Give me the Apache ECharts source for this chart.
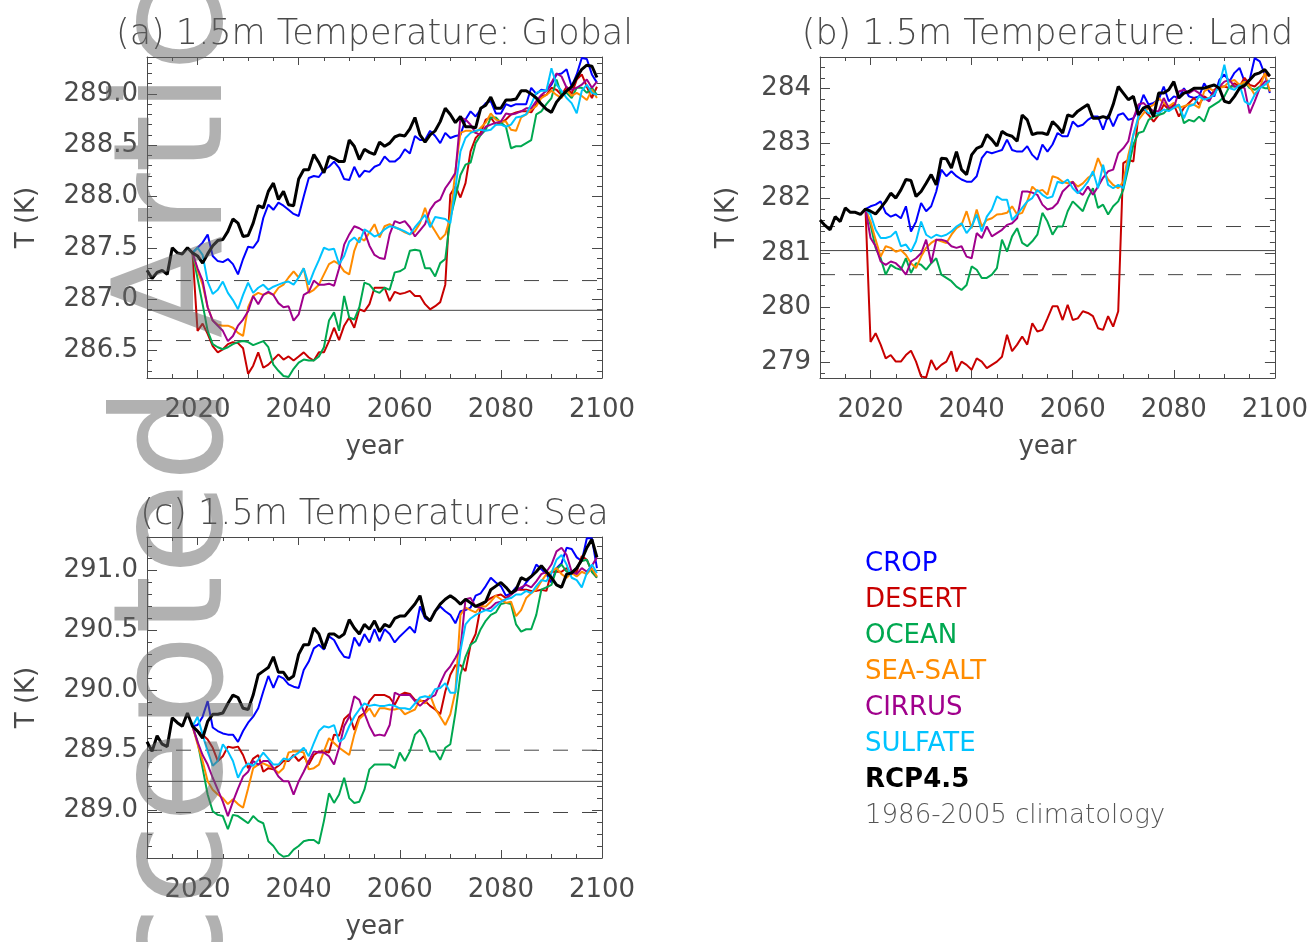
<!DOCTYPE html>
<html><head><meta charset="utf-8">
<script src="https://cdn.jsdelivr.net/npm/echarts@6/dist/echarts.min.js"></script>
<style>html,body{margin:0;padding:0;background:#fff}#c{width:1311px;height:942px}</style>
</head><body><div id="c"></div>
<script>
// ---------------- DATA ----------------
const titles = ['(a) 1.5m Temperature: Global', '(b) 1.5m Temperature: Land', '(c) 1.5m Temperature: Sea'];
const seriesNames = ['CROP', 'DESERT', 'OCEAN', 'SEA-SALT', 'CIRRUS', 'SULFATE'];
const rcpName = 'RCP4.5';
const climName = '1986-2005 climatology';
const rcpStart = 2010;   // first year of RCP4.5 run
const geoStart = 2019;   // first year of geoengineering runs (branch point)
const xLabels = [2020, 2040, 2060, 2080, 2100];
const xMajorTicks = [2020, 2040, 2060, 2080];

const yRangeGlobal = [286.23, 289.36];
const yRangeLand = [278.71, 284.58];
const yRangeSea = [288.60, 291.28];
const yLabelsGlobal = [286.5, 287.0, 287.5, 288.0, 288.5, 289.0];
const yLabelsLand = [279, 280, 281, 282, 283, 284];
const yLabelsSea = [289.0, 289.5, 290.0, 290.5, 291.0];

// climatology (mean, lower, upper)
const climGlobal = [286.89, 286.595, 287.18];
const climLand = [281.04, 280.60, 281.48];
const climSea = [289.24, 288.98, 289.50];

// ---- Global ----
const globalRcp = [
287.28,287.20,287.26,287.28,287.24,287.50,287.45,287.44,287.50,287.45,
287.42,287.35,287.44,287.52,287.57,287.58,287.66,287.78,287.74,287.61,
287.62,287.74,287.91,287.89,288.05,288.13,287.97,288.05,287.92,287.91,
288.17,288.26,288.26,288.41,288.33,288.23,288.39,288.37,288.34,288.34,
288.55,288.49,288.36,288.46,288.43,288.41,288.53,288.49,288.52,288.58,
288.60,288.59,288.66,288.77,288.60,288.53,288.60,288.64,288.73,288.86,
288.80,288.72,288.78,288.68,288.68,288.67,288.86,288.89,288.97,288.86,
288.86,288.94,288.94,288.95,289.03,289.03,289.00,288.96,288.90,288.85,
288.82,288.92,288.98,289.03,289.07,289.16,289.24,289.28,289.27,289.16];
const globalCrop = [287.45,
287.50,287.55,287.63,287.42,287.37,287.36,287.39,287.34,287.24,287.39,
287.51,287.50,287.57,287.79,287.92,287.87,287.94,287.91,287.87,287.83,
287.81,288.00,288.18,288.20,288.19,288.26,288.29,288.34,288.28,288.17,
288.16,288.29,288.19,288.25,288.24,288.29,288.31,288.39,288.34,288.34,
288.38,288.46,288.42,288.59,288.55,288.55,288.64,288.59,288.52,288.62,
288.57,288.59,288.60,288.75,288.83,288.78,288.85,288.91,288.93,288.81,
288.81,288.90,288.88,288.90,288.90,288.90,289.06,289.00,289.04,289.03,
289.09,289.19,289.20,289.24,289.07,289.19,289.35,289.34,289.19,289.11];
const globalDesert = [287.45,
286.69,286.76,286.66,286.54,286.48,286.51,286.56,286.58,286.57,286.52,
286.27,286.35,286.48,286.33,286.36,286.41,286.46,286.41,286.44,286.40,
286.44,286.48,286.43,286.40,286.48,286.48,286.59,286.72,286.60,286.74,
286.82,286.72,286.90,286.88,286.95,287.11,287.11,287.11,286.98,287.07,
287.05,287.06,287.08,287.03,287.03,286.95,286.90,286.93,286.97,287.14,
288.02,288.10,287.99,288.13,288.44,288.57,288.62,288.75,288.77,288.70,
288.72,288.75,288.80,288.82,288.83,288.83,288.82,288.90,288.98,288.99,
289.06,289.04,288.99,289.07,289.00,289.14,289.19,289.07,288.96,289.07];
const globalOcean = [287.45,
287.20,286.95,286.69,286.56,286.53,286.51,286.53,286.56,286.58,286.59,
286.58,286.55,286.57,286.59,286.53,286.36,286.30,286.25,286.24,286.32,
286.38,286.41,286.40,286.40,286.44,286.53,286.79,286.87,286.69,287.03,
286.82,286.80,286.92,287.16,287.14,287.08,287.06,287.11,287.09,287.26,
287.27,287.30,287.47,287.48,287.47,287.30,287.30,287.22,287.35,287.39,
287.79,287.99,288.21,288.31,288.33,288.52,288.60,288.65,288.77,288.77,
288.72,288.68,288.47,288.49,288.49,288.52,288.55,288.80,288.83,288.90,
288.96,289.14,288.99,289.01,288.96,289.06,289.06,289.01,289.06,288.99];
const globalSeaSalt = [287.45,
287.28,287.14,286.92,286.79,286.75,286.74,286.74,286.72,286.67,286.64,
286.92,287.03,287.06,287.04,287.06,287.04,287.11,287.14,287.21,287.27,
287.21,287.30,287.06,287.09,287.14,287.24,287.34,287.37,287.34,287.27,
287.24,287.47,287.60,287.57,287.65,287.73,287.60,287.71,287.73,287.70,
287.68,287.65,287.63,287.66,287.74,287.89,287.74,287.66,287.58,287.63,
287.80,288.25,288.62,288.64,288.64,288.62,288.67,288.72,288.81,288.75,
288.73,288.73,288.65,288.64,288.77,288.80,288.85,288.88,288.96,288.99,
289.03,288.99,288.96,289.04,288.98,289.01,288.98,288.94,289.04,288.96];
const globalCirrus = [287.45,
287.30,287.18,286.92,286.79,286.74,286.69,286.59,286.64,286.74,286.80,
286.88,287.03,286.95,287.04,287.07,287.04,286.96,286.92,286.93,286.79,
286.85,287.04,287.07,287.18,287.14,287.14,287.15,287.13,287.30,287.53,
287.63,287.71,287.69,287.66,287.52,287.43,287.40,287.39,287.63,287.76,
287.74,287.76,287.70,287.61,287.67,287.73,287.87,287.94,287.97,288.08,
288.15,288.23,288.77,288.75,288.70,288.62,288.60,288.68,288.70,288.72,
288.73,288.81,288.80,288.81,288.83,288.86,288.86,288.93,288.99,289.03,
289.11,289.20,289.17,289.06,289.04,289.06,289.09,289.14,289.06,289.12];
const globalSulfate = [287.45,
287.50,287.43,287.17,287.05,287.09,287.17,287.06,286.99,286.90,287.04,
287.16,287.06,287.11,287.14,287.09,287.12,287.14,287.16,287.17,287.14,
287.21,287.30,287.14,287.27,287.38,287.50,287.48,287.49,287.34,287.42,
287.56,287.60,287.55,287.68,287.65,287.61,287.63,287.68,287.71,287.70,
287.68,287.66,287.63,287.70,287.76,287.82,287.70,287.80,287.79,287.78,
287.74,288.08,288.44,288.57,288.62,288.64,288.65,288.64,288.65,288.70,
288.70,288.68,288.70,288.77,288.78,288.80,288.90,289.01,289.03,289.03,
289.25,289.09,289.03,288.96,288.91,288.81,289.03,289.09,289.01,288.99];

// ---- Land ----
const landRcp = [
281.60,281.50,281.42,281.66,281.57,281.82,281.74,281.74,281.70,281.80,
281.76,281.71,281.82,281.94,282.09,282.00,282.15,282.34,282.32,282.03,
282.12,282.27,282.43,282.24,282.73,282.72,282.55,282.85,282.52,282.43,
282.79,282.91,282.95,283.16,283.07,282.95,283.22,283.16,283.13,283.04,
283.52,283.43,283.16,283.19,283.19,283.16,283.40,283.31,283.19,283.52,
283.49,283.59,283.65,283.71,283.46,283.46,283.49,283.46,283.71,284.04,
283.92,283.80,283.86,283.52,283.65,283.68,283.49,283.92,283.92,283.98,
284.13,283.83,283.92,283.95,284.01,284.01,284.01,284.04,284.07,284.01,
283.77,283.74,283.86,284.01,284.06,284.16,284.26,284.29,284.35,284.23];
const landCrop = [281.80,
281.85,281.88,281.94,281.73,281.66,281.70,281.63,281.85,281.39,281.57,
281.91,281.76,281.85,282.12,282.52,282.40,282.49,282.40,282.34,282.30,
282.30,282.40,282.73,282.85,282.82,282.85,282.88,283.07,282.88,282.85,
282.85,282.95,282.79,282.70,282.98,282.85,282.98,283.19,283.13,283.13,
283.40,283.31,283.34,283.43,283.49,283.49,283.25,283.52,283.31,283.52,
283.55,283.43,283.46,283.62,283.89,283.71,283.74,283.80,284.04,283.77,
283.86,283.83,284.01,283.86,283.83,283.86,284.10,283.95,283.86,284.16,
284.26,284.13,284.29,284.38,284.13,284.16,284.56,284.50,284.26,283.92];
const landDesert = [281.80,
279.37,279.53,279.32,279.07,279.13,279.01,279.01,279.13,279.21,279.01,
278.74,278.72,279.04,278.86,278.95,279.01,279.20,278.83,279.01,278.95,
278.86,279.07,279.01,278.89,278.95,279.01,279.10,279.50,279.20,279.32,
279.47,279.32,279.71,279.56,279.59,279.80,280.02,280.02,279.77,280.05,
279.77,279.80,279.93,279.90,279.84,279.62,279.59,279.84,279.65,279.93,
282.64,282.70,282.67,283.52,283.62,283.52,283.40,283.52,283.71,283.62,
283.71,283.49,283.65,283.74,283.83,283.71,283.86,283.80,283.98,284.04,
284.04,284.01,284.10,284.04,284.20,284.07,284.04,284.13,284.26,284.23];
const landOcean = [281.80,
281.51,281.09,280.90,280.60,280.78,280.72,280.69,280.90,280.63,280.81,
280.78,280.69,280.81,280.90,280.60,280.54,280.48,280.38,280.32,280.41,
280.75,280.69,280.54,280.54,280.60,280.72,281.24,281.02,281.30,281.45,
281.18,281.12,281.21,281.33,281.73,281.57,281.33,281.48,281.48,281.76,
281.94,281.85,281.76,282.00,282.18,281.82,281.88,281.70,281.85,281.94,
282.15,282.55,282.98,283.19,283.22,283.43,283.49,283.52,283.55,283.65,
283.65,283.71,283.37,283.43,283.40,283.49,283.40,283.65,283.71,283.77,
283.86,284.04,284.04,284.04,284.13,284.01,283.98,284.04,284.01,284.01];
const landSeaSalt = [281.80,
281.57,281.24,280.93,281.12,281.09,281.02,281.05,280.96,280.81,280.72,
280.93,281.09,281.18,281.24,281.21,281.18,281.33,281.45,281.51,281.76,
281.45,281.79,281.48,281.60,281.63,281.70,281.71,281.73,281.85,281.70,
281.73,281.94,282.21,282.12,282.15,282.06,282.40,282.37,282.30,282.27,
282.30,282.21,282.27,282.37,282.43,282.73,282.52,282.34,282.24,282.18,
282.30,282.79,283.16,283.43,283.55,283.65,283.71,283.83,283.74,283.68,
283.74,283.65,283.68,283.71,283.71,283.65,283.95,284.01,283.95,284.01,
284.04,284.13,284.16,284.07,284.13,284.04,283.89,284.01,284.29,283.95];
const landCirrus = [281.80,
281.27,281.12,280.84,280.78,280.84,280.81,280.72,280.60,280.84,280.90,
280.99,281.24,280.81,281.24,281.24,281.21,281.12,281.09,281.12,280.93,
280.90,281.36,281.27,281.48,281.30,281.36,281.42,281.51,281.54,281.63,
282.12,282.12,282.10,282.06,281.88,281.79,281.82,281.91,282.12,282.21,
282.30,282.12,282.06,282.21,282.06,282.21,282.37,282.49,282.52,282.82,
282.91,283.04,283.46,283.71,283.74,283.65,283.59,283.59,283.83,283.65,
283.65,283.95,283.98,283.92,283.98,283.92,283.83,283.77,283.95,284.04,
284.13,284.16,284.04,284.04,284.01,283.55,283.77,284.01,284.13,284.13];
const landSulfate = [281.80,
281.70,281.42,281.27,281.27,281.30,281.39,281.12,281.15,281.02,281.21,
281.57,281.33,281.27,281.33,281.30,281.33,281.39,281.48,281.54,281.36,
281.48,281.70,281.39,281.66,281.79,282.03,281.97,281.97,281.60,281.70,
281.82,281.94,282.00,282.15,282.06,282.00,282.03,282.30,282.27,282.34,
282.18,282.09,282.18,282.30,282.49,282.18,282.61,282.24,282.18,282.24,
282.18,282.67,283.16,283.49,283.65,283.55,283.55,283.55,283.62,283.59,
283.65,283.71,283.46,283.68,283.71,283.86,283.80,283.83,283.89,284.07,
284.44,284.01,283.98,284.07,283.77,283.71,283.89,284.01,284.07,284.16];

// ---- Sea ----
const seaRcp = [
289.57,289.49,289.62,289.55,289.53,289.77,289.73,289.70,289.81,289.70,
289.66,289.60,289.74,289.80,289.80,289.81,289.89,289.96,289.94,289.85,
289.84,289.96,290.13,290.16,290.19,290.28,290.15,290.15,290.09,290.12,
290.30,290.38,290.38,290.52,290.47,290.35,290.47,290.47,290.44,290.47,
290.59,290.52,290.47,290.55,290.51,290.58,290.49,290.55,290.53,290.60,
290.62,290.62,290.67,290.72,290.79,290.62,290.58,290.66,290.72,290.76,
290.79,290.76,290.72,290.76,290.73,290.70,290.72,290.74,290.84,290.87,
290.90,290.86,290.81,290.84,290.94,290.92,290.95,290.99,291.04,290.99,
290.94,290.88,290.86,290.97,290.98,291.02,291.09,291.19,291.26,291.11];
const seaCrop = [289.70,
289.71,289.78,289.91,289.69,289.66,289.64,289.63,289.63,289.57,289.66,
289.73,289.78,289.85,289.99,290.12,290.02,290.12,290.10,290.05,290.03,
290.02,290.17,290.24,290.35,290.38,290.34,290.45,290.42,290.34,290.28,
290.27,290.44,290.37,290.47,290.40,290.51,290.41,290.51,290.47,290.40,
290.45,290.49,290.53,290.48,290.70,290.60,290.58,290.66,290.70,290.66,
290.63,290.56,290.66,290.67,290.69,290.79,290.81,290.87,290.94,290.90,
290.87,290.79,290.81,290.86,290.84,290.90,290.95,291.05,291.01,290.97,
290.90,291.02,291.06,291.19,291.18,291.11,291.08,291.27,291.27,291.02];
const seaDesert = [289.70,
289.66,289.63,289.59,289.52,289.41,289.45,289.53,289.52,289.53,289.46,
289.35,289.43,289.46,289.32,289.35,289.34,289.37,289.41,289.41,289.46,
289.41,289.45,289.38,289.46,289.49,289.49,289.48,289.63,289.62,289.76,
289.80,289.67,289.78,289.81,289.91,289.96,289.96,289.96,289.94,289.88,
289.96,289.98,289.97,289.92,289.91,289.91,289.87,289.84,289.80,289.99,
290.13,290.21,290.21,290.16,290.38,290.47,290.70,290.74,290.77,290.79,
290.80,290.77,290.80,290.84,290.84,290.84,290.83,290.83,290.84,290.83,
290.99,290.99,290.99,291.02,290.97,290.99,291.12,291.09,290.99,290.94];
const seaOcean = [289.70,
289.57,289.35,289.13,288.99,288.96,288.95,288.84,288.96,288.95,288.92,
288.89,288.95,288.91,288.89,288.74,288.70,288.64,288.61,288.62,288.67,
288.70,288.74,288.75,288.75,288.72,288.91,289.14,289.06,289.13,289.27,
289.10,289.06,289.07,289.17,289.34,289.38,289.38,289.38,289.38,289.35,
289.48,289.41,289.49,289.63,289.67,289.60,289.49,289.49,289.42,289.52,
289.55,289.81,290.13,290.28,290.38,290.41,290.51,290.58,290.63,290.65,
290.72,290.73,290.72,290.55,290.49,290.51,290.51,290.63,290.84,290.86,
290.88,291.01,291.05,290.99,290.99,291.02,291.08,291.09,290.99,290.94];
const seaSeaSalt = [289.70,
289.55,289.41,289.24,289.17,289.13,289.10,289.05,289.09,289.05,289.02,
289.18,289.35,289.38,289.39,289.37,289.35,289.31,289.35,289.48,289.49,
289.49,289.48,289.34,289.35,289.38,289.49,289.60,289.56,289.52,289.49,
289.46,289.63,289.76,289.80,289.85,289.78,289.85,289.85,289.84,289.84,
289.85,289.80,289.82,289.84,289.92,289.89,289.96,289.85,289.78,289.71,
289.80,289.99,290.63,290.69,290.67,290.65,290.70,290.70,290.74,290.79,
290.76,290.73,290.74,290.62,290.67,290.77,290.81,290.84,290.91,290.97,
290.99,291.02,290.97,290.94,290.98,290.95,290.99,290.97,291.02,290.95];
const seaCirrus = [289.70,
289.57,289.46,289.38,289.27,289.17,289.07,288.95,289.07,289.18,289.28,
289.32,289.41,289.38,289.41,289.41,289.35,289.28,289.24,289.24,289.13,
289.24,289.32,289.41,289.49,289.48,289.48,289.45,289.38,289.52,289.70,
289.78,289.95,289.92,289.81,289.70,289.62,289.63,289.62,289.71,289.98,
289.96,289.96,289.96,289.91,289.87,289.91,289.94,289.96,290.06,290.15,
290.20,290.27,290.35,290.76,290.77,290.70,290.69,290.67,290.69,290.73,
290.74,290.76,290.80,290.83,290.86,290.88,290.86,290.91,290.97,290.99,
291.05,291.16,291.19,291.13,290.99,290.97,291.02,290.99,291.04,291.11];
const seaSulfate = [289.70,
289.78,289.63,289.49,289.37,289.41,289.55,289.49,289.41,289.27,289.35,
289.39,289.37,289.42,289.48,289.43,289.38,289.38,289.43,289.42,289.45,
289.48,289.52,289.45,289.56,289.66,289.70,289.69,289.71,289.57,289.60,
289.70,289.78,289.84,289.89,289.87,289.88,289.87,289.87,289.88,289.87,
289.85,289.85,289.84,289.89,289.94,289.95,289.94,290.01,290.02,290.06,
289.98,289.98,290.33,290.55,290.60,290.63,290.65,290.67,290.66,290.70,
290.74,290.76,290.77,290.80,290.80,290.83,290.81,290.87,290.92,290.91,
290.98,291.09,291.13,291.05,290.94,290.92,290.86,290.98,291.05,290.98];

// ---------------- STYLE / LAYOUT ----------------
const FONT = 'DejaVu Sans';
const TXT = '#4a4a4a';
const AX = '#4a4a4a';
const colors = ['#0000ff', '#c80000', '#00a850', '#ff8c00', '#a0008c', '#00c3ff'];
const xMin = 2010, xMax = 2100;

const panels = [
  {title: titles[0], titleTop: 12, titleShift: -5, grid: {left: 147, top: 57, width: 455, height: 321}, yRange: yRangeGlobal, yLabels: yLabelsGlobal, yMinorStep: 0.1, dec: 1, nameGap: 107,
   rcp: globalRcp, geo: [globalCrop, globalDesert, globalOcean, globalSeaSalt, globalCirrus, globalSulfate], clim: climGlobal},
  {title: titles[1], titleTop: 12, titleShift: -5, grid: {left: 820, top: 57, width: 455, height: 321}, yRange: yRangeLand, yLabels: yLabelsLand, yMinorStep: 0.2, dec: 0, nameGap: 80,
   rcp: landRcp, geo: [landCrop, landDesert, landOcean, landSeaSalt, landCirrus, landSulfate], clim: climLand},
  {title: titles[2], titleTop: 492, titleShift: -5, grid: {left: 147, top: 537, width: 455, height: 321}, yRange: yRangeSea, yLabels: yLabelsSea, yMinorStep: 0.1, dec: 1, nameGap: 107,
   rcp: seaRcp, geo: [seaCrop, seaDesert, seaOcean, seaSeaSalt, seaCirrus, seaSulfate], clim: climSea}
];

function toPairs(start, arr) { return arr.map((v, i) => [start + i, v]); }
function minorList(range, step) {
  const out = [];
  const k0 = Math.ceil(range[0] / step - 1e-9), k1 = Math.floor(range[1] / step + 1e-9);
  for (let k = k0; k <= k1; k++) out.push(Math.round(k * step * 1000) / 1000);
  return out;
}
const textBase = {fontFamily: FONT, color: TXT, fontWeight: 'normal'};

const grids = [], xAxes = [], yAxes = [], series = [], titleOpts = [];

panels.forEach((p, i) => {
  grids.push(Object.assign({containLabel: false}, p.grid));
  titleOpts.push({text: p.title, left: p.grid.left + p.grid.width / 2 + p.titleShift, top: p.titleTop, textAlign: 'center',
    textStyle: Object.assign({}, textBase, {fontSize: 35, fontWeight: 200})});

  const xa = (pos, major) => ({
    gridIndex: i, type: 'value', min: xMin, max: xMax, position: pos,
    interval: major ? undefined : 5,
    splitLine: {show: false},
    axisPointer: {show: false},
    axisLine: {show: major, onZero: false, lineStyle: {color: AX, width: 1}},
    axisTick: major ? {show: true, inside: true, length: 8, customValues: xMajorTicks, lineStyle: {color: AX}}
                    : {show: true, inside: true, length: 4, lineStyle: {color: AX}},
    axisLabel: (major && pos === 'bottom') ? Object.assign({show: true, customValues: xLabels, margin: 19, fontSize: 26, formatter: v => String(v)}, textBase)
                                            : {show: false}
  });
  const xb = xa('bottom', true);
  xb.name = 'year'; xb.nameLocation = 'middle'; xb.nameGap = 56;
  xb.nameTextStyle = Object.assign({fontSize: 26}, textBase);
  xAxes.push(xb, xa('bottom', false), xa('top', true), xa('top', false));

  const minors = minorList(p.yRange, p.yMinorStep);
  const ya = (pos, major) => ({
    gridIndex: i, type: 'value', min: p.yRange[0], max: p.yRange[1], position: pos,
    splitLine: {show: false},
    axisPointer: {show: false},
    axisLine: {show: major, onZero: false, lineStyle: {color: AX, width: 1}},
    axisTick: {show: true, inside: true, length: major ? 10 : 5, customValues: major ? p.yLabels : minors, lineStyle: {color: AX}},
    axisLabel: (major && pos === 'left') ? Object.assign({show: true, customValues: p.yLabels, margin: 9, fontSize: 26, formatter: v => Number(v).toFixed(p.dec)}, textBase)
                                          : {show: false}
  });
  const yl = ya('left', true);
  yl.name = 'T (K)'; yl.nameLocation = 'middle'; yl.nameGap = p.nameGap;
  yl.nameTextStyle = Object.assign({fontSize: 26}, textBase);
  yAxes.push(yl, ya('left', false), ya('right', true), ya('right', false));

  const xi = i * 4, yi = i * 4;
  // climatology
  series.push({type: 'line', name: climName, xAxisIndex: xi, yAxisIndex: yi, symbol: 'none', silent: true,
    data: [[xMin, p.clim[0]], [xMax, p.clim[0]]], lineStyle: {color: '#444', width: 1}, itemStyle: {color: '#666'}, z: 1});
  [p.clim[1], p.clim[2]].forEach((v, k) => {
    series.push({type: 'line', name: 'clim-range-' + k, xAxisIndex: xi, yAxisIndex: yi, symbol: 'none', silent: true,
      data: [[xMin, v], [xMax, v]], lineStyle: {color: '#444', width: 1, type: [15, 14]}, itemStyle: {color: '#444'}, z: 1});
  });
  p.geo.forEach((arr, k) => {
    series.push({type: 'line', name: seriesNames[k], xAxisIndex: xi, yAxisIndex: yi, symbol: 'none', silent: true,
      data: toPairs(geoStart, arr), lineStyle: {color: colors[k], width: 2}, itemStyle: {color: colors[k]}, z: 2});
  });
  series.push({type: 'line', name: rcpName, xAxisIndex: xi, yAxisIndex: yi, symbol: 'none', silent: true,
    data: toPairs(rcpStart, p.rcp), lineStyle: {color: '#000', width: 3}, itemStyle: {color: '#000'}, z: 3});
});

const legendData = seriesNames.map((n, k) => ({name: n, textStyle: {color: colors[k]}}));
legendData.push({name: rcpName, textStyle: {color: '#000', fontWeight: 'bold'}});
legendData.push({name: climName, textStyle: {color: '#555', fontWeight: 200}});

const chart = echarts.init(document.getElementById('c'), null, {renderer: 'canvas', width: 1311, height: 942});
chart.setOption({
  animation: false,
  backgroundColor: '#ffffff',
  title: titleOpts,
  grid: grids,
  xAxis: xAxes,
  yAxis: yAxes,
  legend: {orient: 'vertical', left: 855, top: 546, icon: 'none', itemWidth: 0, itemHeight: 14, itemGap: 10,
    selectedMode: false, textStyle: {fontFamily: FONT, fontSize: 26}, data: legendData},
  graphic: [{type: 'text', x: 182, y: 472, rotation: Math.PI / 2, zlevel: 1, z: 100, silent: true,
    style: {text: 'Accepted Article', fontSize: 151, fontFamily: FONT, fill: 'rgba(100,100,100,0.5)', align: 'center', verticalAlign: 'middle'}}],
  series: series
});
</script></body></html>
